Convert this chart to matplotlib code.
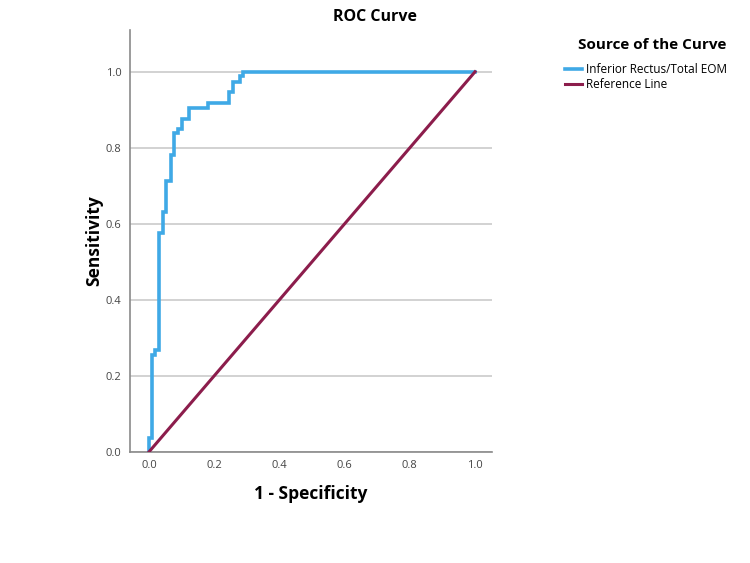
import matplotlib.pyplot as plt

plt.rcParams['font.family'] = ['Open Sans', 'DejaVu Sans']

# ROC step curve (1 - specificity, sensitivity)
fpr = [0.0, 0.0, 0.008, 0.008, 0.018, 0.018, 0.031, 0.031, 0.042, 0.042,
       0.052, 0.052, 0.067, 0.067, 0.078, 0.078, 0.088, 0.088, 0.100, 0.100,
       0.124, 0.124, 0.180, 0.180, 0.246, 0.246, 0.257, 0.257, 0.279, 0.279,
       0.289, 0.289, 1.0]
tpr = [0.0, 0.037, 0.037, 0.255, 0.255, 0.268, 0.268, 0.577, 0.577, 0.631,
       0.631, 0.713, 0.713, 0.782, 0.782, 0.840, 0.840, 0.849, 0.849, 0.876,
       0.876, 0.904, 0.904, 0.918, 0.918, 0.947, 0.947, 0.973, 0.973, 0.990,
       0.990, 1.0, 1.0]
ref_x = [0.0, 1.0]
ref_y = [0.0, 1.0]
ticks = [0.0, 0.2, 0.4, 0.6, 0.8, 1.0]

fig = plt.figure(figsize=(7.5, 5.63), dpi=100)
ax = fig.add_axes([0.1733, 0.1972, 0.4827, 0.7496])

ax.plot(fpr, tpr, color='#3fa9e6', lw=2.6, label='Inferior Rectus/Total EOM',
        solid_joinstyle='miter', zorder=3)
ax.plot(ref_x, ref_y, color='#8c1d4c', lw=2.2, label='Reference Line', zorder=3)

ax.set_xlim(-0.058, 1.052)
ax.set_ylim(0, 1.11)
ax.set_xticks(ticks)
ax.set_yticks(ticks)
ax.set_xticklabels(['%.1f' % t for t in ticks])
ax.set_yticklabels(['%.1f' % t for t in ticks])
ax.tick_params(length=0, labelsize=8, pad=6)
for lab in ax.get_xticklabels() + ax.get_yticklabels():
    lab.set_color('#444444')

ax.grid(axis='y', color='#cfcfcf', lw=1.3, zorder=0)
ax.set_axisbelow(True)
for s in ['top', 'right']:
    ax.spines[s].set_visible(False)
for s in ['left', 'bottom']:
    ax.spines[s].set_color('#8a8a8a')
    ax.spines[s].set_linewidth(1.2)

ax.set_xlabel('1 - Specificity', fontsize=12.5, fontweight='bold', labelpad=10)
ax.set_ylabel('Sensitivity', fontsize=12.5, fontweight='bold', labelpad=2)
fig.text(0.5, 0.97, 'ROC Curve', ha='center', va='center', fontsize=11.5,
         fontweight='bold')

# legend title drawn separately so the gap above the entries matches
fig.text(0.869, 1 - 45 / 563, 'Source of the Curve', ha='center', va='center',
         fontsize=11, fontweight='bold')
leg = fig.legend(loc='upper left', bbox_to_anchor=(565 / 750, 1 - 63 / 563),
                 frameon=False, fontsize=8.5, handlelength=1.4,
                 handletextpad=0.4, labelspacing=0.15, borderaxespad=0,
                 borderpad=0)

fig.savefig('out.png', dpi=100)
